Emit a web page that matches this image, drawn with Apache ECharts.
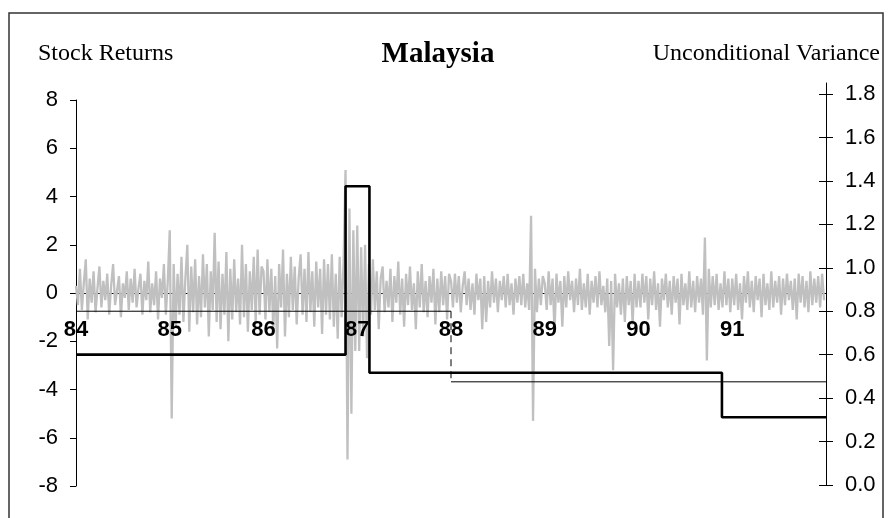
<!DOCTYPE html>
<html>
<head>
<meta charset="utf-8">
<script src="https://cdn.jsdelivr.net/npm/echarts@6/dist/echarts.min.js"></script>
<style>html,body{margin:0;padding:0;background:#fff}#c{width:888px;height:518px}</style>
</head>
<body>
<div id="c"></div>
<script>
// ---- data ----
var yearStarts = [84, 85, 86, 87, 88, 89, 90, 91];
var xTickLabels = ['84','85','86','87','88','89','90','91'];
var ret84 = [0.3,-0.5,1.0,-0.7,0.4,1.4,-1.1,0.6,-0.4,0.9,-0.8,0.2,1.1,-0.6,0.5,-0.3,0.8,-0.9,0.3,1.2,-0.5,0.1,0.7,-1.0,0.4,-0.2,0.9,-0.7,0.6,-0.4,1.0,-0.6,0.2,0.8,-0.9,0.5,-0.3,1.3,-0.8,0.4,-0.5,0.9,-1.1,0.6,-0.2,1.2,-0.9,0.5];
var ret85 = [2.6,-5.2,1.2,-1.4,0.8,-0.9,1.5,-1.2,0.6,2.0,-1.6,1.1,-0.8,1.4,-1.3,0.7,-1.0,1.6,-0.6,1.2,-1.8,0.9,-0.7,2.5,-1.2,1.3,-1.5,0.8,-0.9,1.7,-2.0,1.0,-1.1,1.4,-0.8,0.6,-1.3,2.0,-1.0,1.2,-1.6,0.9,-0.7,1.5,-1.2,1.8,-0.9,1.1];
var ret86 = [0.9,-1.1,1.4,-0.8,1.0,-1.5,0.7,-2.3,1.2,-0.6,1.8,-1.8,0.8,-1.0,1.5,-0.7,1.1,-1.3,0.6,1.6,-0.9,1.0,-1.2,1.7,-0.8,0.9,-1.4,1.3,-0.6,1.0,-1.7,1.4,-0.9,1.2,-1.1,1.6,-1.4,0.8,-1.9,1.5,-1.0,1.3,5.1,-6.9,3.5,-5.0,2.6,-2.4];
var ret87 = [2.8,-2.4,1.9,-1.8,2.0,-2.7,1.2,-0.9,1.4,-0.7,0.9,-1.5,0.6,1.1,-0.8,0.5,-0.6,1.0,-1.2,0.7,-0.4,1.3,-0.9,0.6,-1.4,0.8,-0.5,1.1,-0.7,0.4,-1.5,0.9,-0.6,1.2,-0.8,0.5,-1.0,0.7,-0.4,1.0,-1.3,0.6,-0.8,0.9,-0.5,0.7,-1.1,0.8];
var ret88 = [0.5,-0.6,0.8,-0.4,0.7,-0.8,0.3,0.9,-0.5,0.6,-0.7,0.4,-0.9,0.8,-0.3,0.6,-1.5,0.7,-1.2,0.5,-0.6,0.9,-0.4,0.6,-0.8,0.5,-0.3,0.7,-0.6,0.8,-0.5,0.4,-0.9,0.6,-0.4,0.7,-0.5,0.8,-0.6,0.4,-0.7,3.2,-5.3,1.0,-0.8,0.6,-0.5,0.7];
var ret89 = [0.4,-0.7,0.9,-0.5,0.6,-1.6,0.8,-0.4,0.5,-1.4,0.7,-0.6,0.9,-0.3,0.5,-0.8,0.6,-0.5,1.0,-0.7,0.4,-0.6,0.8,-0.9,0.5,-0.4,0.7,-0.6,0.9,-0.5,0.3,-0.8,0.6,-2.2,0.5,-3.2,0.8,-0.6,0.4,-0.9,0.6,-1.2,0.7,-0.5,0.5,-1.3,0.8,-0.6];
var ret90 = [0.5,-0.6,0.8,-0.4,0.7,-1.1,0.6,-0.5,0.9,-0.7,0.4,-1.4,0.6,-0.3,0.8,-0.6,0.5,-0.9,0.7,-0.4,0.6,-1.3,0.8,-0.5,0.4,-0.7,0.9,-0.6,0.5,-0.8,0.7,-0.4,0.6,-0.9,2.3,-2.8,1.0,-0.6,0.7,-0.5,0.8,-0.7,0.4,-0.6,0.9,-0.5,0.6,-0.8];
var ret91 = [0.6,-0.5,0.8,-0.7,0.4,-1.1,0.7,-0.4,0.9,-0.6,0.5,-0.8,0.7,-0.3,0.6,-1.0,0.8,-0.5,0.4,-0.7,0.9,-0.6,0.5,-0.4,0.7,-0.9,0.6,-0.5,0.8,-0.3,0.5,-0.7,0.6,-1.1,0.8,-0.4,0.7,-0.6,0.5,-0.8,0.9,-0.5,0.6,-0.4,0.7,-0.6,0.8,-0.3];
// unconditional variance, regime breaks (years) and levels
var varBreaks = [84, 86.875, 87.13, 90.89, 92];
var varLevels = [0.60, 1.375, 0.517, 0.312];
var var2Breaks = [84, 88.0, 92];
var var2Levels = [0.80, 0.475];
var leftTicks = [-8, -6, -4, -2, 0, 2, 4, 6, 8];
var rightTicks = [0.0, 0.2, 0.4, 0.6, 0.8, 1.0, 1.2, 1.4, 1.6, 1.8];

// ---- build series data ----
var retYears = [ret84, ret85, ret86, ret87, ret88, ret89, ret90, ret91];
var retData = [];
retYears.forEach(function (arr, k) {
  var n = arr.length;
  arr.forEach(function (v, i) { retData.push([yearStarts[k] + i / n, v]); });
});
var thick = [];
for (var i = 0; i < varLevels.length; i++) thick.push([varBreaks[i], varLevels[i]]);
thick.push([varBreaks[varBreaks.length - 1], varLevels[varLevels.length - 1]]);

var series = [{
  type: 'line', xAxisIndex: 0, yAxisIndex: 0, data: retData, showSymbol: false, symbol: 'none',
  lineStyle: { color: '#c0c0c0', width: 2.3 }, animation: false, z: 2
}, {
  type: 'line', xAxisIndex: 1, yAxisIndex: 1, data: thick, step: 'end', symbol: 'none',
  lineStyle: { color: '#000', width: 2.6 }, animation: false, z: 4
}];
for (var j = 0; j < var2Levels.length; j++) {
  series.push({
    type: 'line', xAxisIndex: 1, yAxisIndex: 1, symbol: 'none', animation: false, z: 3,
    data: [[var2Breaks[j], var2Levels[j]], [var2Breaks[j + 1], var2Levels[j]]],
    lineStyle: { color: '#000', width: 1 }
  });
  if (j > 0) {
    series.push({
      type: 'line', xAxisIndex: 1, yAxisIndex: 1, symbol: 'none', animation: false, z: 3,
      data: [[var2Breaks[j], var2Levels[j - 1]], [var2Breaks[j], var2Levels[j]]],
      lineStyle: { color: '#000', width: 1, type: [7, 5] }
    });
  }
}

var numFont = 'Liberation Sans';
var chart = echarts.init(document.getElementById('c'), null, { renderer: 'canvas' });
chart.setOption({
  animation: false,
  backgroundColor: '#fff',
  grid: [
    { left: 76, right: 62, top: 100, height: 386, outerBoundsMode: 'none', containLabel: false },
    { left: 76, right: 62, top: 94, height: 391, outerBoundsMode: 'none', containLabel: false },
    { left: 76, right: 62, top: 83, height: 402, outerBoundsMode: 'none', containLabel: false }
  ],
  xAxis: [{
    // year labels, drawn above the returns
    gridIndex: 0, type: 'value', min: 84, max: 92, interval: 1, position: 'bottom', offset: -193, z: 10,
    axisLine: { show: false, onZero: false },
    axisTick: { show: false }, splitLine: { show: false },
    axisLabel: {
      showMaxLabel: false, margin: 26, color: '#000', fontFamily: numFont, fontWeight: 'bold', fontSize: 22,
      formatter: function (v) { var k = yearStarts.indexOf(v); return k >= 0 ? xTickLabels[k] : ''; }
    }
  }, {
    // zero line of the returns axis, under the returns
    gridIndex: 1, type: 'value', min: 84, max: 92, position: 'bottom', offset: -192, z: 0,
    axisLine: { show: true, onZero: false, lineStyle: { color: '#000', width: 1 } },
    axisTick: { show: false }, axisLabel: { show: false }, splitLine: { show: false }
  }, {
    gridIndex: 2, type: 'value', min: 84, max: 92, show: false
  }],
  yAxis: [{
    gridIndex: 0, type: 'value', position: 'left', min: leftTicks[0], max: leftTicks[leftTicks.length - 1], interval: 2,
    axisLine: { show: true, onZero: false, lineStyle: { color: '#000', width: 1 } },
    axisTick: { show: true, length: 6, lineStyle: { color: '#000' } },
    splitLine: { show: false },
    axisLabel: { margin: 18, color: '#000', fontFamily: numFont, fontSize: 22 }
  }, {
    gridIndex: 1, type: 'value', position: 'right', min: rightTicks[0], max: rightTicks[rightTicks.length - 1], interval: 0.2,
    axisLine: { show: false },
    axisTick: { show: true, length: 7, lineStyle: { color: '#000' } },
    splitLine: { show: false },
    axisLabel: { margin: 19, color: '#000', fontFamily: numFont, fontSize: 22, formatter: function (v) { return v.toFixed(1); } }
  }, {
    gridIndex: 1, type: 'value', position: 'right', min: rightTicks[0], max: rightTicks[rightTicks.length - 1], interval: 0.2,
    axisLine: { show: false },
    axisTick: { show: true, inside: true, length: 7, lineStyle: { color: '#000' } },
    splitLine: { show: false }, axisLabel: { show: false }
  }, {
    gridIndex: 2, type: 'value', position: 'right', min: 0, max: 1.85,
    axisLine: { show: true, onZero: false, lineStyle: { color: '#000', width: 1 } },
    axisTick: { show: false }, splitLine: { show: false }, axisLabel: { show: false }
  }],
  graphic: [
    { type: 'rect', shape: { x: 9, y: 13, width: 874, height: 540 }, style: { fill: 'none', stroke: '#333', lineWidth: 1.5 }, silent: true },
    { type: 'text', x: 38, y: 54, style: { text: 'Stock Returns', font: '24px "Liberation Serif"', fill: '#000', align: 'left', verticalAlign: 'middle' } },
    { type: 'text', x: 438, y: 55, style: { text: 'Malaysia', font: 'bold 29px "Liberation Serif"', fill: '#000', align: 'center', verticalAlign: 'middle' } },
    { type: 'text', x: 880, y: 54, style: { text: 'Unconditional Variance', font: '24px "Liberation Serif"', fill: '#000', align: 'right', verticalAlign: 'middle' } }
  ],
  series: series
});
</script>
</body>
</html>
